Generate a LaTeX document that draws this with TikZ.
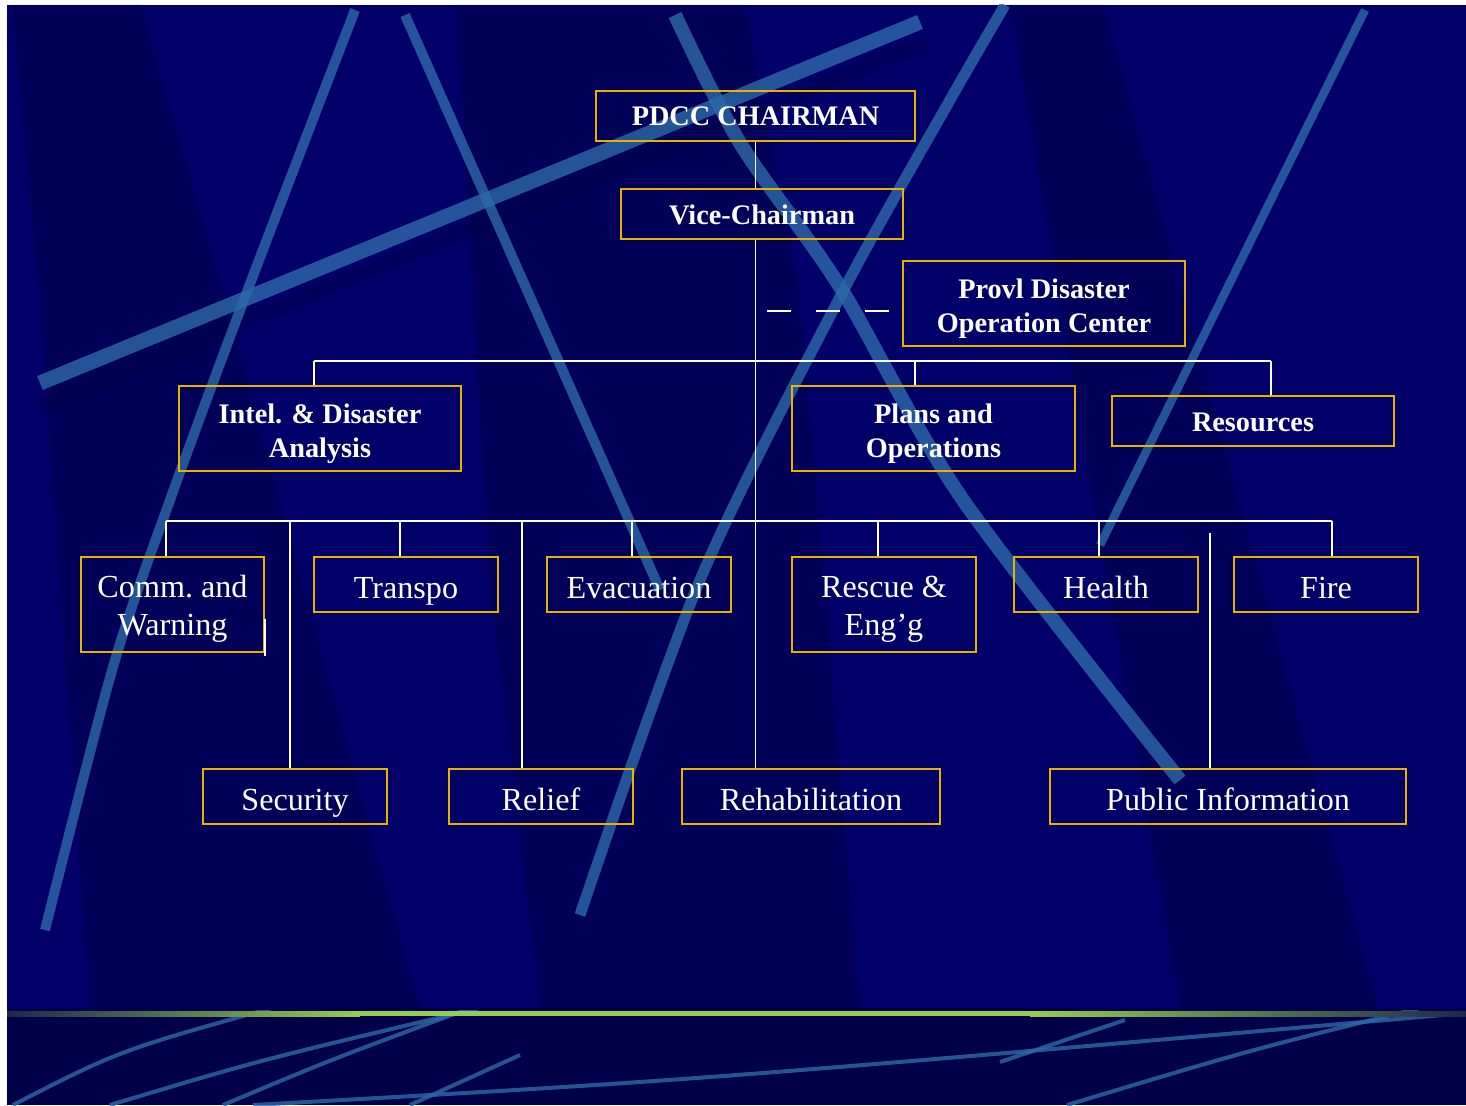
\documentclass[tikz,border=0pt]{standalone}
\usepackage{fontspec}
\setmainfont{Liberation Serif}
\definecolor{navy}{RGB}{0,0,104}
\definecolor{deepnavy}{RGB}{0,0,72}
\definecolor{streakblue}{RGB}{46,106,168}
\definecolor{boxgold}{RGB}{232,178,0}
\definecolor{barlime}{RGB}{146,206,84}
\definecolor{bardark}{RGB}{30,40,78}
\newcommand{\duo}[2]{\begin{tabular}[b]{@{}c@{}}#1\\#2\end{tabular}}
\tikzset{
  orgbox/.style = {draw=boxgold, line width=1pt, text=white, inner sep=0pt},% common frame
  box_b/.style = {orgbox, minimum height=1cm, text height=0.44cm,
    text depth=0.04cm, font=\fontsize{16.1}{19.35}\selectfont\bfseries},% bold title box
  box_bb/.style = {orgbox, minimum height=1.7cm, text depth=0.01cm,
    font=\fontsize{16.1}{19.35}\selectfont\bfseries},% bold, two lines
  box_r/.style = {orgbox, minimum width=3.68cm, minimum height=1.1cm,
    text height=0.6cm, text depth=0.06cm,
    font=\fontsize{18.3}{21.6}\selectfont},% plain unit box
  box_rr/.style = {orgbox, minimum width=3.68cm, minimum height=1.9cm,
    text depth=0.07cm, font=\fontsize{18.3}{21.6}\selectfont},% plain, two lines
  wire/.style = {white, line width=1.1pt},
  streak/.style = {draw=streakblue, opacity=0.8, line cap=butt},
  shade_w/.style = {fill=deepnavy, opacity=0.45}
}

\begin{document}
\begin{tikzpicture}[x=0.02cm, y=-0.02cm]
  % page and background
  \fill[white] (0,0) rectangle (1466,1105);
  \fill[navy] (7,5) rectangle (1466,1105);
  \begin{scope}
    \clip (7,5) rectangle (1466,1008);
    \fill[shade_w] (12,5) -- (140,5) -- (225,300) -- (372,840) -- (420,1008)
      -- (90,1008) -- (40,300) -- cycle;
    \fill[shade_w] (455,5) -- (745,5) -- (800,300) -- (860,1008) -- (540,1008)
      -- (490,580) -- cycle;
    \fill[shade_w] (1010,5) -- (1103,5) -- (1378,1008) -- (1180,1008) -- cycle;
    \draw[deepnavy, opacity=0.4, line width=0.3cm] (40,405) -- (925,42);
    \draw[streak, line width=0.3cm] (40,383) -- (920,22);
    \draw[streak, line width=0.2cm] plot[smooth] coordinates
      {(355,10) (245,297) (170,500) (113,667) (45,930)};
    \draw[streak, line width=0.2cm] (405,15) -- (660,590);
    \draw[streak, line width=0.28cm] plot[smooth] coordinates
      {(675,15) (740,143) (840,287) (963,500) (1180,780)};
    \draw[streak, line width=0.22cm] plot[smooth] coordinates
      {(1005,5) (950,100) (840,297) (700,580) (580,915)};
    \draw[streak, line width=0.17cm] (1365,10) -- (1100,545);
  \end{scope}
  % bottom band
  \fill[deepnavy] (7,1008) rectangle (1466,1105);
  \begin{scope}
    \clip (7,1010) rectangle (1466,1105);
    \draw[streak, line width=0.08cm] (13,1105) .. controls (120,1050) .. (290,1003);
    \draw[streak, line width=0.08cm] (110,1105) .. controls (260,1060) .. (480,1008);
    \draw[streak, line width=0.08cm] (223,1105) .. controls (330,1060) .. (465,1010);
    \draw[streak, line width=0.08cm] (253,1105) .. controls (700,1080) .. (1466,1013);
    \draw[streak, line width=0.08cm] (410,1105) -- (520,1055);
    \draw[streak, line width=0.08cm] (1000,1062) -- (1125,1020);
    \draw[streak, line width=0.08cm] (1067,1105) .. controls (1250,1050) .. (1420,1008);
  \end{scope}
  \fill[left color=bardark, right color=barlime] (7,1011) rectangle (360,1016);
  \fill[barlime] (360,1011) rectangle (1030,1016);
  \fill[left color=barlime, right color=bardark] (1030,1011) rectangle (1466,1016);

  % boxes
  \node[box_b, minimum width=6.38cm] (chair) at (755.5,116) {PDCC CHAIRMAN};
  \node[box_b, minimum width=5.64cm] (vice) at (762,214) {Vice-Chairman};
  \node[box_bb, minimum width=5.64cm] (provl) at (1044,303.5)
    {\duo{Provl Disaster}{Operation Center}};
  \node[box_bb, minimum width=5.64cm] (intel) at (320,428.5)
    {\duo{Intel. \& Disaster}{Analysis}};
  \node[box_bb, minimum width=5.66cm] (plans) at (933.5,428.5)
    {\duo{Plans and}{Operations}};
  \node[box_b, minimum width=5.64cm] (resrc) at (1253,421) {Resources};

  \node[box_rr, minimum width=3.66cm] (comm) at (172.5,604.5)
    {\duo{Comm.\ and}{Warning}};
  \node[box_r] (transpo) at (406,584.5) {Transpo};
  \node[box_r] (evac) at (639,584.5) {Evacuation};
  \node[box_rr] (rescue) at (884,604.5) {\duo{Rescue \&}{Eng’g}};
  \node[box_r] (health) at (1106,584.5) {Health};
  \node[box_r] (fire) at (1326,584.5) {Fire};

  \node[box_r] (secur) at (295,796.5) {Security};
  \node[box_r] (relief) at (541,796.5) {Relief};
  \node[box_r, minimum width=5.16cm] (rehab) at (811,796.5) {Rehabilitation};
  \node[box_r, minimum width=7.12cm] (pubinfo) at (1228,796.5)
    {Public Information};

  % bus points
  \coordinate (a1) at (314,361);
  \coordinate (a2) at (915,361);
  \coordinate (a3) at (1271,361);
  \coordinate (b1) at (166,521);
  \coordinate (b2) at (290,521);
  \coordinate (b3) at (400,521);
  \coordinate (b4) at (522,521);
  \coordinate (b5) at (632,521);
  \coordinate (b6) at (878,521);
  \coordinate (b7) at (1099,521);
  \coordinate (b8) at (1332,521);
  \coordinate (dash0) at (755,311);
  \coordinate (pstub) at (1210,533);

  % connectors
  \draw[wire] (chair) -- (chair |- vice.north);
  \draw[wire] (chair |- vice.south) -- (chair |- rehab.north);
  \draw[wire, dash pattern=on 0.48cm off 0.5cm, dash phase=0.74cm]
    (dash0) -- (dash0 -| provl.west);
  \draw[wire] (a1) -- (a3);
  \draw[wire] (a1) -- (a1 |- intel.north);
  \draw[wire] (a2) -- (a2 |- plans.north);
  \draw[wire] (a3) -- (a3 |- resrc.north);
  \draw[wire] (b1) -- (b8);
  \draw[wire] (b1) -- (b1 |- comm.north);
  \draw[wire] (b2) -- (b2 |- secur.north);
  \draw[wire] (b3) -- (b3 |- transpo.north);
  \draw[wire] (b4) -- (b4 |- relief.north);
  \draw[wire] (b5) -- (b5 |- evac.north);
  \draw[wire] (b6) -- (b6 |- rescue.north);
  \draw[wire] (b7) -- (b7 |- health.north);
  \draw[wire] (b8) -- (b8 |- fire.north);
  \draw[wire] (pstub) -- (pstub |- pubinfo.north);
  \draw[wire] (comm.south east) ++(0,3) -- ++(0,-37);
\end{tikzpicture}
\end{document}
